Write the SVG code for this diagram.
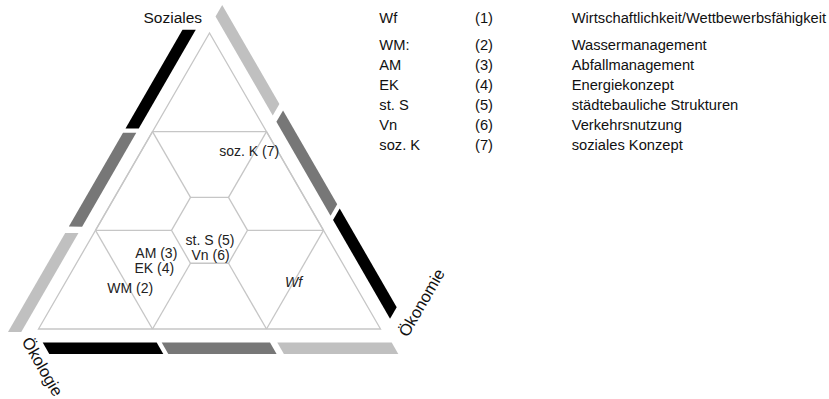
<svg xmlns="http://www.w3.org/2000/svg" xmlns:xlink="http://www.w3.org/1999/xlink" width="829" height="399" viewBox="0 0 829 399">
  <style>
    .ln { fill: none; stroke: #c6c6c6; stroke-width: 1.3; stroke-linejoin: miter; }
    .t { font-family: "Liberation Sans", Arial, sans-serif; fill: #111; }
    .lab { font-size: 14px; fill: #222; }
    .leg { font-size: 14.7px; }
    .axis { font-size: 16.5px; }
    .b1 { fill: #000; }
    .b2 { fill: #777; }
    .b3 { fill: #c0c0c0; }
  </style>
  <defs>
    <g id="barset">
      <polygon class="b1" points="42.7,342.5 156.7,342.5 163.3,354 49.3,354"/>
      <polygon class="b2" points="161.7,342.5 270,342.5 276.6,354 168.3,354"/>
      <polygon class="b3" points="277.3,342.5 391.7,342.5 398.3,354 283.9,354"/>
    </g>
  </defs>
  <rect width="829" height="399" fill="#fff"/>

  <g id="bars">
    <use xlink:href="#barset" href="#barset"/>
    <use xlink:href="#barset" href="#barset" transform="rotate(120 209.5 230.33)"/>
    <use xlink:href="#barset" href="#barset" transform="rotate(240 209.5 230.33)"/>
  </g>

  <g id="grid">
    <polygon class="ln" points="209.5,33 38.5,329 380.5,329"/>
    <line class="ln" x1="152.5" y1="131.67" x2="266.5" y2="131.67"/>
    <line class="ln" x1="95.5" y1="230.33" x2="171.5" y2="230.33"/>
    <line class="ln" x1="247.5" y1="230.33" x2="323.5" y2="230.33"/>
    <polygon class="ln" points="171.5,230.33 190.5,197.42 228.5,197.42 247.5,230.33 228.5,263.24 190.5,263.24"/>
    <line class="ln" x1="152.5" y1="131.67" x2="95.5" y2="230.33"/>
    <line class="ln" x1="152.5" y1="131.67" x2="190.5" y2="197.42"/>
    <line class="ln" x1="266.5" y1="131.67" x2="323.5" y2="230.33"/>
    <line class="ln" x1="266.5" y1="131.67" x2="228.5" y2="197.42"/>
    <line class="ln" x1="95.5" y1="230.33" x2="152.5" y2="329"/>
    <line class="ln" x1="190.5" y1="263.24" x2="152.5" y2="329"/>
    <line class="ln" x1="323.5" y1="230.33" x2="266.5" y2="329"/>
    <line class="ln" x1="228.5" y1="263.24" x2="266.5" y2="329"/>
  </g>

  <g id="axis-soziales"><text class="t" x="143.5" y="22.7" style="font-size:15.5px">Soziales</text></g>
  <g id="axis-oekologie"><text class="t axis" text-anchor="middle" transform="translate(37.5,369.5) rotate(60)">Ökologie</text></g>
  <g id="axis-oekonomie"><text class="t axis" text-anchor="middle" transform="translate(426.5,305.5) rotate(-60)">Ökonomie</text></g>

  <g id="cell-labels">
    <text class="t lab" x="219.3" y="156.3">soz. K (7)</text>
    <text class="t lab" x="185.5" y="244.7">st. S (5)</text>
    <text class="t lab" x="191.5" y="260">Vn (6)</text>
    <text class="t lab" x="135.3" y="257.8">AM (3)</text>
    <text class="t lab" x="134.5" y="273.3">EK (4)</text>
    <text class="t lab" x="107.3" y="292.7">WM (2)</text>
    <text class="t lab" x="285" y="287.3" font-style="italic">Wf</text>
  </g>

  <g id="legend">
    <text class="t leg" x="379.3" y="22.5">Wf</text>
    <text class="t leg" x="475" y="22.5">(1)</text>
    <text class="t leg" x="571.7" y="22.5">Wirtschaftlichkeit/Wettbewerbsfähigkeit</text>
    <text class="t leg" x="379.3" y="49.5">WM:</text>
    <text class="t leg" x="475" y="49.5">(2)</text>
    <text class="t leg" x="571.7" y="49.5">Wassermanagement</text>
    <text class="t leg" x="379.3" y="69.6">AM</text>
    <text class="t leg" x="475" y="69.6">(3)</text>
    <text class="t leg" x="571.7" y="69.6">Abfallmanagement</text>
    <text class="t leg" x="379.3" y="89.7">EK</text>
    <text class="t leg" x="475" y="89.7">(4)</text>
    <text class="t leg" x="571.7" y="89.7">Energiekonzept</text>
    <text class="t leg" x="379.3" y="109.8">st. S</text>
    <text class="t leg" x="475" y="109.8">(5)</text>
    <text class="t leg" x="571.7" y="109.8">städtebauliche Strukturen</text>
    <text class="t leg" x="379.3" y="129.9">Vn</text>
    <text class="t leg" x="475" y="129.9">(6)</text>
    <text class="t leg" x="571.7" y="129.9">Verkehrsnutzung</text>
    <text class="t leg" x="379.3" y="150">soz. K</text>
    <text class="t leg" x="475" y="150">(7)</text>
    <text class="t leg" x="571.7" y="150">soziales Konzept</text>
  </g>
</svg>
